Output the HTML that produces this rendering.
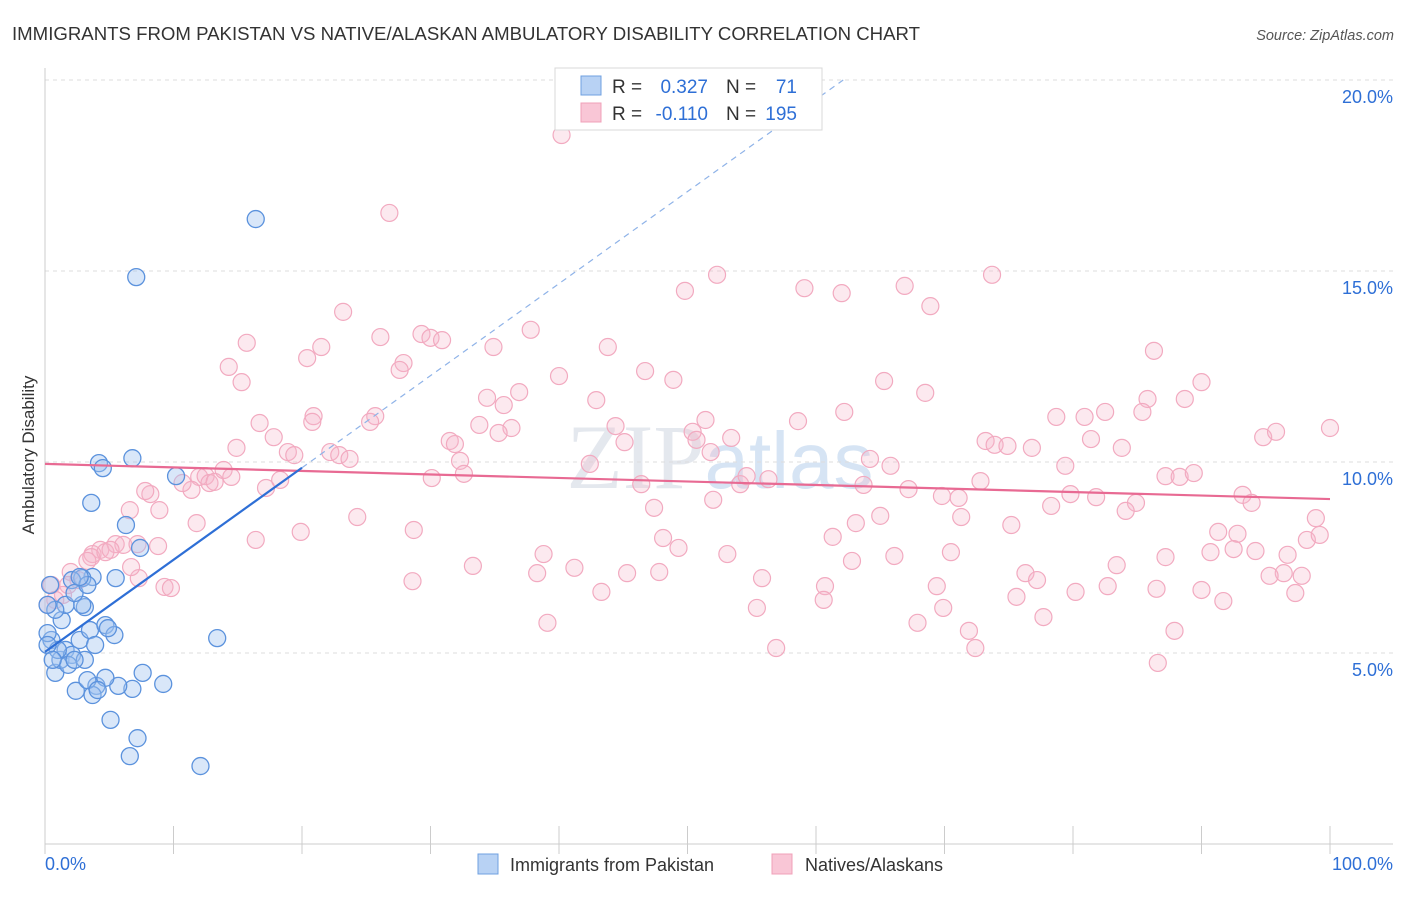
<!DOCTYPE html>
<html><head><meta charset="utf-8"><style>
body{margin:0;background:#fff;width:1406px;height:892px;overflow:hidden;font-family:"Liberation Sans",sans-serif}
</style></head><body>
<svg id="chart" width="1406" height="892" viewBox="0 0 1406 892" xmlns="http://www.w3.org/2000/svg">
<text x="12" y="40" font-size="18.6" fill="#333" textLength="908" lengthAdjust="spacingAndGlyphs">IMMIGRANTS FROM PAKISTAN VS NATIVE/ALASKAN AMBULATORY DISABILITY CORRELATION CHART</text>
<text x="1394" y="40" font-size="14.5" fill="#555" font-style="italic" text-anchor="end">Source: ZipAtlas.com</text>
<text x="720" y="488" font-size="92" fill="#e4e8ee" text-anchor="middle" font-family="Liberation Serif, serif">ZIP<tspan fill="#d6e4f4" font-family="Liberation Sans, sans-serif" font-size="80">atlas</tspan></text>
<g id="grid"></g>
<g id="axes"></g>
<g id="marks"></g>
<g id="trends"></g>
<text transform="translate(34,455) rotate(-90)" font-size="17" fill="#333" text-anchor="middle">Ambulatory Disability</text>
<g>
<rect x="555" y="68" width="267" height="62" fill="#fff" stroke="#d8d8d8"/>
<rect x="581" y="76" width="20" height="19" fill="#b8d2f4" stroke="#6fa0e0"/>
<rect x="581" y="103" width="20" height="19" fill="#f9c6d6" stroke="#f0a0b8"/>
<text x="612" y="93" font-size="19" fill="#333">R =</text>
<text x="708" y="93" font-size="19" fill="#2e6fd6" text-anchor="end">0.327</text>
<text x="726" y="93" font-size="19" fill="#333">N =</text>
<text x="797" y="93" font-size="19" fill="#2e6fd6" text-anchor="end">71</text>
<text x="612" y="120" font-size="19" fill="#333">R =</text>
<text x="708" y="120" font-size="19" fill="#2e6fd6" text-anchor="end">-0.110</text>
<text x="726" y="120" font-size="19" fill="#333">N =</text>
<text x="797" y="120" font-size="19" fill="#2e6fd6" text-anchor="end">195</text>
</g>
<g>
<rect x="478" y="854" width="20" height="20" fill="#b8d2f4" stroke="#6fa0e0"/>
<text x="510" y="871" font-size="18" fill="#333">Immigrants from Pakistan</text>
<rect x="772" y="854" width="20" height="20" fill="#f9c6d6" stroke="#f0a0b8"/>
<text x="805" y="871" font-size="18" fill="#333">Natives/Alaskans</text>
</g>
</svg>
<script>
const yTicks=[5,10,15,20];
const yTickLabels=["5.0%","10.0%","15.0%","20.0%"];
const xTickCount=10;
const blueX=[16.4,7.1,4.2,6.8,10.2,3.6,6.3,7.4,13.4,5.5,3.7,2.9,2.1,0.4,5.1,7.2,6.6,12.1,9.2,7.6,6.8,5.7,4.0,3.7,2.4,0.8,1.2,1.6,2.1,2.7,3.5,4.7,5.4,4.9,0.5,0.2,1.3,3.1,2.9,1.6,0.8,0.2,2.3,3.3,2.7,4.5,1.0,1.8,3.1,3.9,4.7,3.3,0.2,0.6,2.3,4.1];
const blueY=[16.36,14.84,9.97,10.1,9.63,8.93,8.35,7.75,5.39,6.96,6.99,6.96,6.91,6.78,3.25,2.77,2.3,2.04,4.19,4.48,4.06,4.14,4.14,3.9,4.01,4.48,4.82,5.08,4.95,5.34,5.6,5.73,5.47,5.65,5.34,5.52,5.86,6.2,6.26,6.26,6.13,6.26,6.57,6.78,6.99,9.84,5.08,4.69,4.82,5.21,4.35,4.29,5.21,4.82,4.82,4.03];
const pinkX=[40.2,26.8,52.3,49.8,59.1,62.0,66.9,73.7,68.9,23.2,29.3,30.0,30.9,26.1,21.5,15.7,20.4,27.9,27.6,34.9,37.8,43.8,86.3,14.3,15.3,34.4,36.9,40.0,46.7,48.9,65.3,68.5,90.0,85.8,88.7,35.7,42.9,20.9,25.7,25.3,20.8,16.7,33.8,36.3,44.4,51.4,58.6,62.2,78.7,80.9,82.5,85.4,100,17.8,14.9,18.9,19.4,22.2,22.9,23.7,31.5,31.9,35.3,45.1,50.4,50.7,53.4,73.2,73.9,74.9,76.8,81.4,83.8,94.8,95.8,12.0,12.5,12.8,13.2,13.9,14.5,17.2,18.3,11.4,10.7,8.2,7.8,8.9,30.1,32.3,32.6,42.4,46.4,54.1,54.6,56.3,64.2,65.8,63.7,67.2,72.8,79.4,87.2,88.3,89.4,93.2,93.9,79.8,81.8,84.9,84.1,78.3,69.8,71.1,71.3,52.0,47.4,51.8,65.0,63.1,75.2,98.9,91.3,92.8,98.2,99.2,61.3,48.1,49.3,53.1,70.5,66.1,62.8,83.4,87.2,90.7,92.5,94.2,96.7,96.4,95.3,97.8,76.3,77.2,97.3,90.0,91.7,86.5,80.2,75.6,82.7,60.7,69.4,55.8,60.6,55.4,69.9,67.9,77.7,71.9,72.4,56.9,87.9,86.6,39.1,43.3,41.2,38.8,38.3,33.3,45.3,47.8,28.6,28.7,24.3,19.9,16.4,11.8,6.6,5.5,6.1,7.2,8.8,4.3,3.7,3.6,3.3,2.0,2.6,1.8,1.4,0.8,0.2,0.5,7.3,9.3,9.8,4.7,5.1,6.7];
const pinkY=[18.56,16.52,14.9,14.48,14.55,14.42,14.61,14.9,14.08,13.93,13.35,13.25,13.19,13.27,13.01,13.12,12.72,12.59,12.41,13.01,13.46,13.01,12.91,12.49,12.09,11.68,11.83,12.25,12.38,12.15,12.12,11.81,12.09,11.65,11.65,11.49,11.62,11.2,11.2,11.05,11.05,11.02,10.97,10.89,10.94,11.1,11.07,11.31,11.18,11.18,11.31,11.31,10.89,10.65,10.37,10.26,10.18,10.26,10.18,10.08,10.55,10.47,10.76,10.52,10.79,10.58,10.63,10.55,10.45,10.42,10.37,10.6,10.37,10.65,10.79,9.61,9.63,9.45,9.48,9.79,9.61,9.32,9.53,9.27,9.45,9.16,9.24,8.74,9.58,10.03,9.69,9.95,9.42,9.42,9.63,9.55,10.08,9.9,9.4,9.29,9.5,9.9,9.63,9.61,9.71,9.14,8.93,9.16,9.08,8.93,8.72,8.85,9.11,9.06,8.56,9.01,8.8,10.26,8.59,8.4,8.35,8.53,8.17,8.12,7.96,8.09,8.04,8.01,7.75,7.59,7.64,7.54,7.41,7.3,7.51,7.64,7.72,7.67,7.57,7.09,7.02,7.02,7.09,6.91,6.57,6.65,6.36,6.68,6.6,6.47,6.75,6.75,6.75,6.96,6.39,6.18,6.18,5.79,5.94,5.58,5.13,5.13,5.58,4.74,5.79,6.6,7.23,7.59,7.09,7.28,7.09,7.12,6.88,8.22,8.56,8.17,7.96,8.4,8.74,7.85,7.83,7.85,7.8,7.7,7.59,7.51,7.41,7.12,6.91,6.78,6.52,6.39,6.26,6.78,6.96,6.73,6.7,7.64,7.7,7.25];
const pinkTrend=[9.95,9.03];
const blueTrend=[5.03,9.85];
const NS="http://www.w3.org/2000/svg";
const X0=45,X1=1330,Y0=844,PXPER=38.2;
function sx(v){return X0+(X1-X0)*v/100;}
function sy(v){return Y0-v*PXPER;}
function mk(tag,attrs,parent){const e=document.createElementNS(NS,tag);for(const k in attrs)e.setAttribute(k,attrs[k]);document.getElementById(parent).appendChild(e);return e;}
yTicks.forEach((t,i)=>{
 const g=mk('line',{x1:X0,x2:1393,y1:sy(t),y2:sy(t),stroke:'#ddd','stroke-dasharray':'4,4'},'grid');
 
 
 const tx=mk('text',{x:1393,y:sy(t)+23,'font-size':18,fill:'#2e6fd6','text-anchor':'end'},'axes');
 tx.textContent=yTickLabels[i];
 
 
});
const yl=mk('line',{x1:X0,x2:X0,y1:68,y2:Y0,stroke:'#ccc'},'axes');


const xl=mk('line',{x1:X0,x2:1393,y1:Y0,y2:Y0,stroke:'#ccc'},'axes');


for(let i=0;i<=xTickCount;i++){
 const t=mk('line',{x1:sx(i*10),x2:sx(i*10),y1:Y0-18,y2:Y0+10,stroke:'#ccc'},'axes');
 
 
}
const xa=mk('text',{x:45,y:870,'font-size':18,fill:'#2e6fd6'},'axes');xa.textContent='0.0%';


const xb=mk('text',{x:1393,y:870,'font-size':18,fill:'#2e6fd6','text-anchor':'end'},'axes');xb.textContent='100.0%';


pinkX.forEach((v,i)=>{
 const c=mk('circle',{cx:sx(v),cy:sy(pinkY[i]),r:8.5,fill:'rgba(246,182,202,0.3)',stroke:'#f2aac0','stroke-width':1.2},'marks');
 
 
});
blueX.forEach((v,i)=>{
 const c=mk('circle',{cx:sx(v),cy:sy(blueY[i]),r:8.5,fill:'rgba(160,196,240,0.4)',stroke:'#5b92dd','stroke-width':1.3},'marks');
 
 
});
const pt=mk('line',{x1:sx(0),y1:sy(pinkTrend[0]),x2:sx(100),y2:sy(pinkTrend[1]),stroke:'#e86a93','stroke-width':2.2},'trends');


const slope=(blueTrend[1]-blueTrend[0])/20;
const bt=mk('line',{x1:sx(0),y1:sy(blueTrend[0]),x2:sx(20),y2:sy(blueTrend[1]),stroke:'#2e6fd6','stroke-width':2.2},'trends');


const xe=(20-blueTrend[0])/slope;
const bd=mk('line',{x1:sx(20),y1:sy(blueTrend[1]),x2:sx(xe),y2:sy(20),stroke:'#8fb3e8','stroke-width':1.2,'stroke-dasharray':'6,5'},'trends');


</script>
</body></html>
